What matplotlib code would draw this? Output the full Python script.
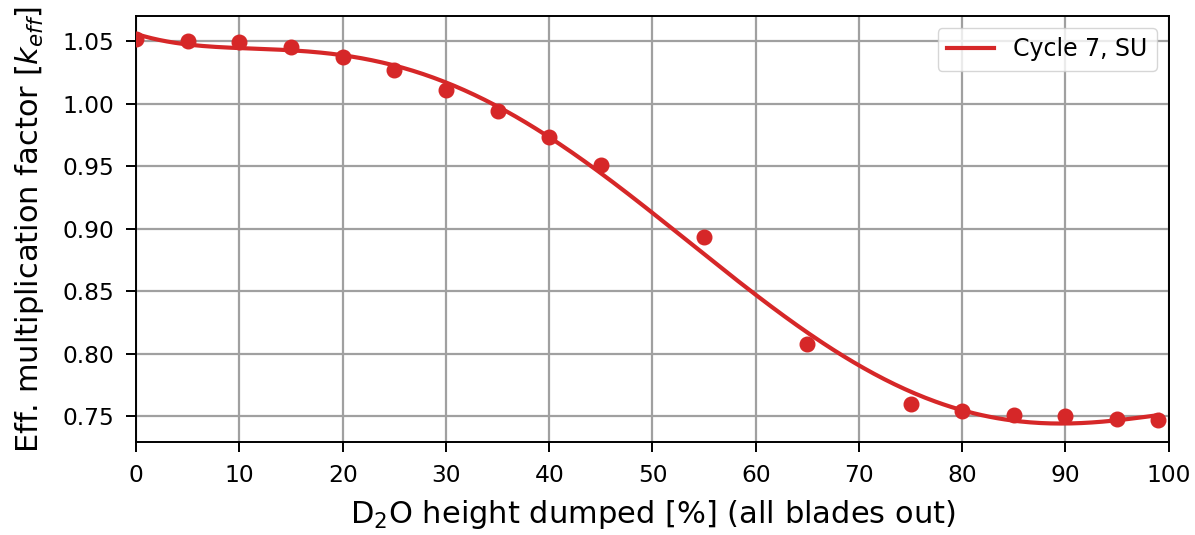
import numpy as np
import matplotlib
matplotlib.use("Agg")
import matplotlib.pyplot as plt

# D2O dump height [%] and computed k_eff (all blades out)
height = [0, 5, 10, 15, 20, 25, 30, 35, 40, 45, 55, 65, 75, 80, 85, 90, 95, 99]
keff = [1.052, 1.050, 1.049, 1.045, 1.037, 1.027, 1.011, 0.994, 0.973, 0.951,
        0.893, 0.808, 0.760, 0.754, 0.751, 0.750, 0.748, 0.747]

series_label = "Cycle 7, SU"
color = "#d62728"

x = np.array(height, dtype=float)
y = np.array(keff)
coef = np.polyfit(x, y, 5)
xf = np.linspace(0, 99, 400)
yf = np.polyval(coef, xf)

fig, ax = plt.subplots(figsize=(11.95, 5.35), dpi=100)
fig.subplots_adjust(left=0.114, right=0.978, bottom=0.173, top=0.97)

ax.plot(xf, yf, color=color, lw=3.0, label=series_label, zorder=3)
ax.plot(x, y, "o", color=color, ms=10.5, zorder=4)

ax.set_xlim(0, 100)
ax.set_ylim(0.729, 1.07)
ax.set_xticks(np.arange(0, 101, 10))
ax.set_yticks(np.arange(0.75, 1.051, 0.05))
ax.yaxis.set_major_formatter(matplotlib.ticker.FormatStrFormatter("%.2f"))
ax.grid(True, color="#a0a0a0", lw=1.6)
ax.set_axisbelow(True)
for s in ax.spines.values():
    s.set_linewidth(1.4)
ax.tick_params(labelsize=16.8, width=1.4, length=7.2, pad=8.5)

ax.set_xlabel(r"D$_2$O height dumped [%] (all blades out)", fontsize=22, labelpad=8)
ax.set_ylabel(r"Eff. multiplication factor [$k_{eff}$]", fontsize=22, labelpad=12)
ax.legend(loc="upper right", fontsize=17, handlelength=2.0)

fig.savefig("out.png", dpi=100)
